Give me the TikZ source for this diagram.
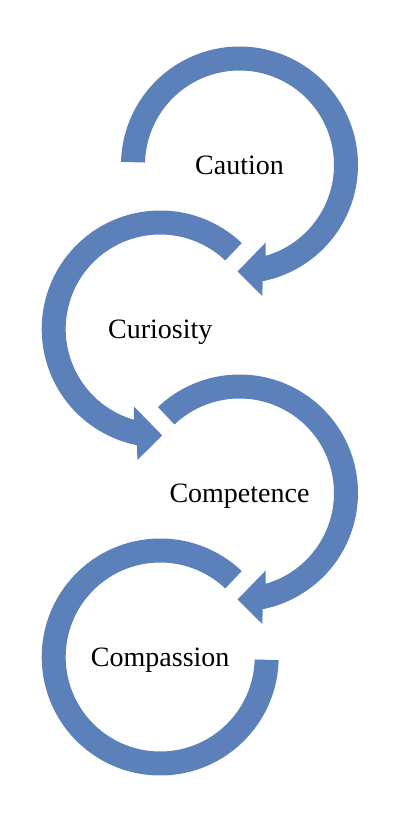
\documentclass[tikz,border=0pt]{standalone}
\usepackage{fontspec}
\setmainfont{Liberation Serif}
\usepackage{tikz}
\usetikzlibrary{positioning}
\definecolor{ringblue}{RGB}{91,128,186}

\begin{document}
\begin{tikzpicture}[x=1pt, y=1pt,
ring/.style={fill=ringblue},
word/.style={font=\fontsize{28}{34}\selectfont, anchor=base, inner sep=0pt}]

\useasboundingbox (0,0) rectangle (402,-823);

\coordinate (c1) at (239.5,-165);
\coordinate[below left=164pt and 79.3pt of c1] (c2);
\coordinate[below right=164pt and 79.3pt of c2] (c3);
\coordinate[below left=164pt and 79.3pt of c3] (c4);

% first ring, clockwise, head at the bottom
\begin{scope}[shift={(c1)}]
\fill[ring] (178.5:118.5) arc[start angle=178.5, end angle=-78.7, radius=118.5]
  -- (22.8,-131) -- (-2,-106.5) -- (26.2,-77.5) -- (-73.9:94.5)
  arc[start angle=-73.9, end angle=178.5, radius=94.5] -- cycle;
\end{scope}

% second ring, counter-clockwise
\begin{scope}[shift={(c2)}]
\fill[ring] (46.5:118.5) arc[start angle=46.5, end angle=258.7, radius=118.5]
  -- (-22.8,-131) -- (2,-106.5) -- (-26.2,-77.5) -- (253.9:94.5)
  arc[start angle=253.9, end angle=46.5, radius=94.5] -- cycle;
\end{scope}

% third ring, clockwise
\begin{scope}[shift={(c3)}]
\fill[ring] (133.5:118.5) arc[start angle=133.5, end angle=-78.7, radius=118.5]
  -- (22.8,-131) -- (-2,-106.5) -- (26.2,-77.5) -- (-73.9:94.5)
  arc[start angle=-73.9, end angle=133.5, radius=94.5] -- cycle;
\end{scope}

% last ring, no head
\begin{scope}[shift={(c4)}]
\fill[ring] (46.5:118.5) arc[start angle=46.5, end angle=358.5, radius=118.5]
  -- (358.5:94.5) arc[start angle=358.5, end angle=46.5, radius=94.5] -- cycle;
\end{scope}

\node[word] (caution) at ([yshift=-9pt]c1) {Caution};
\node[word] (curiosity) at ([yshift=-9pt]c2) {Curiosity};
\node[word] (competence) at ([yshift=-9pt]c3) {Competence};
\node[word] (compassion) at ([yshift=-9pt]c4) {Compassion};
\end{tikzpicture}
\end{document}
